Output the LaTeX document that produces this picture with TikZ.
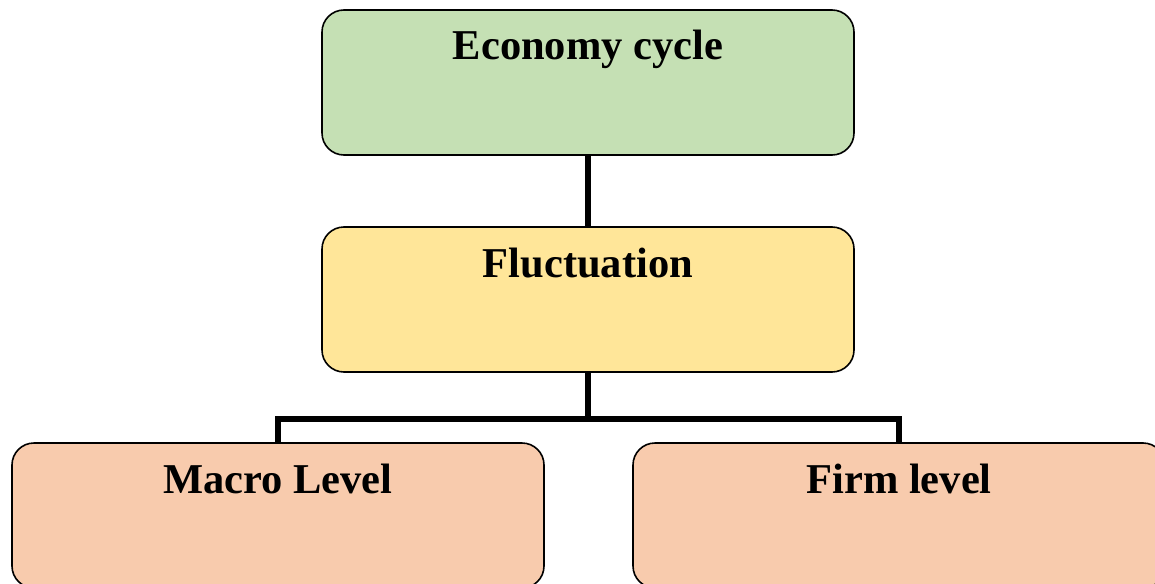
\documentclass[tikz,border=0pt]{standalone}
\usepackage{fontspec}
\setmainfont{Liberation Serif}
\definecolor{boxgreen}{HTML}{C5E0B4}
\definecolor{boxyellow}{HTML}{FFE699}
\definecolor{boxpeach}{HTML}{F8CBAD}
\begin{document}
\begin{tikzpicture}[x=1pt,y=-1pt,
  panel/.style={draw=black, line width=1.6pt, rounded corners=22pt,
    minimum width=532pt, minimum height=145pt, inner sep=0pt, outer sep=0pt, anchor=north west},
  title/.style={font=\bfseries\fontsize{42.5}{46}\selectfont, anchor=base, inner sep=0pt},
  link/.style={line width=5.5pt, line cap=butt}]
  \useasboundingbox (0,0) rectangle (1155,583);
  % boxes
  \node[panel, fill=boxgreen]  (econ)  at (322,10)  {};
  \node[panel, fill=boxyellow] (fluct) at (322,227) {};
  \node[panel, fill=boxpeach]  (macro) at (12,443)  {};
  \node[panel, fill=boxpeach]  (firm)  at (633,443) {};
  % titles
  \node[title] (econT)  at ([yshift=-50pt]econ.north)  {Economy cycle};
  \node[title] (fluctT) at ([yshift=-50pt]fluct.north) {Fluctuation};
  \node[title] (macroT) at ([yshift=-50pt]macro.north) {Macro Level};
  \node[title] (firmT)  at ([yshift=-50pt]firm.north)  {Firm level};
  % connectors
  \coordinate (split) at ([yshift=-47pt]fluct.south);
  \draw[link] (econ.south) -- (fluct.north);
  \draw[link] (fluct.south) -- (split);
  \draw[link] (macro.north) |- (split) -| (firm.north);
\end{tikzpicture}
\end{document}
